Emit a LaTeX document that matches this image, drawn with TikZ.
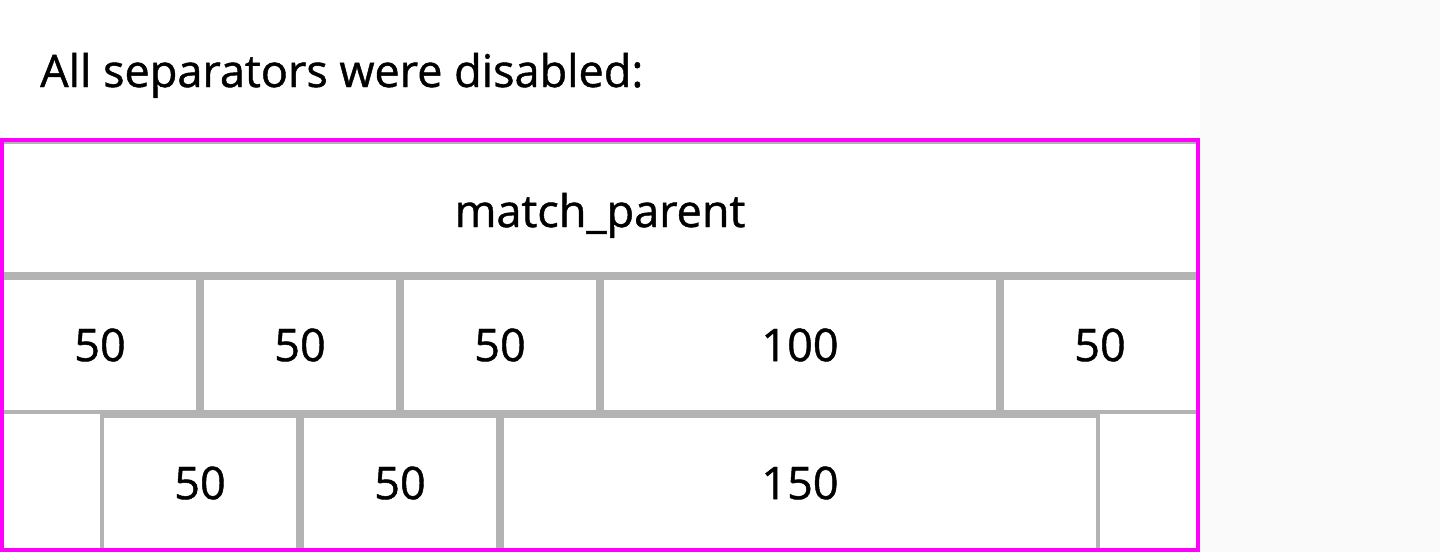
\documentclass[tikz,border=0pt]{standalone}
\usepackage{fontspec}
\setmainfont{Open Sans}[RawFeature={embolden=1}]
\usepackage{xcolor}
\usetikzlibrary{positioning}
\definecolor{sepgray}{HTML}{B3B3B3}
\definecolor{framemagenta}{HTML}{FF00FF}
\definecolor{sidegray}{HTML}{FAFAFA}
\tikzset{
	cell/.style={
			draw=sepgray,
			line width=4pt,
			inner sep=0pt,
			minimum height=134pt,
			font=\fontsize{45}{54}\selectfont
		},
	caption/.style={inner sep=0pt, font=\fontsize{45}{54}\selectfont}
}

\begin{document}
\begin{tikzpicture}[x=1pt, y=-1pt]
		\useasboundingbox (0,0) rectangle (1440,552);
		\fill [white]		(0,0) rectangle (1200,552);
		\fill [sidegray]	(1200,0) rectangle (1440,552);

		\node [caption, anchor=base west] (title) at (40,87) {All separators were disabled:};

		\node [cell, minimum width=1196pt, minimum height=132pt,
			text height=38pt, text depth=0pt] (parent) at (600,208) {match\_parent};

		\node [cell, minimum width=196pt] (rowa1) at (100,345) {50};
		\node [cell, minimum width=196pt] (rowa2) at (300,345) {50};
		\node [cell, minimum width=196pt] (rowa3) at (500,345) {50};
		\node [cell, minimum width=396pt] (rowa4) at (800,345) {100};
		\node [cell, minimum width=196pt] (rowa5) at (1100,345) {50};

		\node [cell, minimum width=196pt] (rowb1) at (200,483) {50};
		\node [cell, minimum width=196pt] (rowb2) at (400,483) {50};
		\node [cell, minimum width=596pt] (rowb3) at (800,483) {150};

		\draw [framemagenta, line width=4pt]	(2,140) rectangle (1198,550);
	\end{tikzpicture}
\end{document}
